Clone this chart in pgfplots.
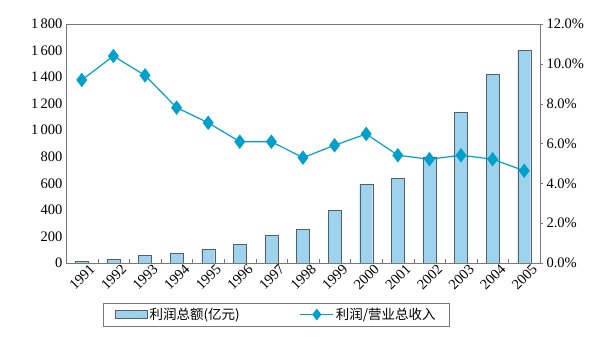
\documentclass[border=0pt]{standalone}
\usepackage{fontspec}
\setmainfont{Liberation Serif}
\newfontfamily\cjk{Noto Sans CJK SC}
\usepackage{pgfplots}
\pgfplotsset{compat=1.18}
\definecolor{barfill}{RGB}{157,211,236}
\definecolor{baredge}{RGB}{85,95,105}
\definecolor{linec}{RGB}{0,160,205}
\definecolor{axisc}{RGB}{120,120,120}
\pgfplotsset{
  barleg/.style={legend image code/.code={\draw[##1] (0pt,-4pt) rectangle (32pt,4pt);}},
  lineleg/.style={legend image code/.code={\draw[mark repeat=2,mark phase=2,##1] plot coordinates {(0pt,0pt)(16.5pt,0pt)(33pt,0pt)};}},
}
\pgfplotstableread{
x year profit ratio
0 1991 10 9.19
1 1992 25 10.39
2 1993 58 9.42
3 1994 73 7.80
4 1995 103 7.04
5 1996 141 6.09
6 1997 208 6.09
7 1998 254 5.29
8 1999 397 5.91
9 2000 593 6.48
10 2001 640 5.41
11 2002 800 5.21
12 2003 1132 5.41
13 2004 1425 5.21
14 2005 1604 4.63
}\datatable
\begin{document}
\begin{tikzpicture}
\useasboundingbox (0pt,0pt) rectangle (614pt,340pt);
\begin{axis}[
  at={(66pt,77pt)}, anchor=south west,
  scale only axis, width=474pt, height=239pt,
  xmin=-0.5, xmax=14.5, ymin=0, ymax=1800,
  axis line style={axisc},
  ytick={0,200,...,1800},
  yticklabels={0,200,400,600,800,1\,000,1\,200,1\,400,1\,600,1\,800},
  ytick pos=left, xtick pos=bottom,
  major tick length=0pt,
  xtick={0,...,14},
  xticklabels={1991,1992,1993,1994,1995,1996,1997,1998,1999,2000,2001,2002,2003,2004,2005},
  minor xtick={0.5,1.5,...,13.5},
  minor tick length=4pt, tick align=inside,
  minor x tick style={axisc},
  xticklabel style={rotate=45, anchor=north east, inner sep=1pt, xshift=6pt, yshift=-4pt},
  tick label style={font=\fontsize{14.5}{16}\selectfont},
  /pgf/number format/assume math mode=true,
  legend columns=2,
  legend style={at={(axis description cs:0.078,-0.167)}, anchor=north west,
    draw=axisc, font=\cjk\fontsize{13.5}{15}\selectfont,
    inner xsep=12pt, inner ysep=3pt,
    /tikz/every odd column/.append style={column sep=0pt},
    /tikz/every even column/.append style={column sep=58pt}},
  legend cell align=left,
]
\addplot[ybar, bar width=13pt, fill=barfill, draw=baredge, barleg]
  table[x=x, y=profit] {\datatable};
\addlegendentry{利润总额(亿元)}
\addlegendimage{linec, line width=1.2pt, mark=diamond*, mark size=5pt, mark options={fill=linec}, lineleg}
\addlegendentry{利润/营业总收入\hspace{6pt}}
\end{axis}
\begin{axis}[
  at={(66pt,77pt)}, anchor=south west,
  scale only axis, width=474pt, height=239pt,
  xmin=-0.5, xmax=14.5, ymin=0, ymax=12,
  axis x line=none, axis y line*=right,
  y axis line style={axisc},
  ytick={0,2,...,12},
  yticklabels={0.0\%,2.0\%,4.0\%,6.0\%,8.0\%,10.0\%,12.0\%},
  tick align=outside, major tick length=3pt,
  ytick style={axisc},
  tick label style={font=\fontsize{14.5}{16}\selectfont},
  /pgf/number format/assume math mode=true,
]
\addplot[linec, line width=1.2pt, mark=diamond*, mark size=6.3pt, mark options={fill=linec}]
  table[x=x, y=ratio] {\datatable};
\end{axis}
\end{tikzpicture}
\end{document}
